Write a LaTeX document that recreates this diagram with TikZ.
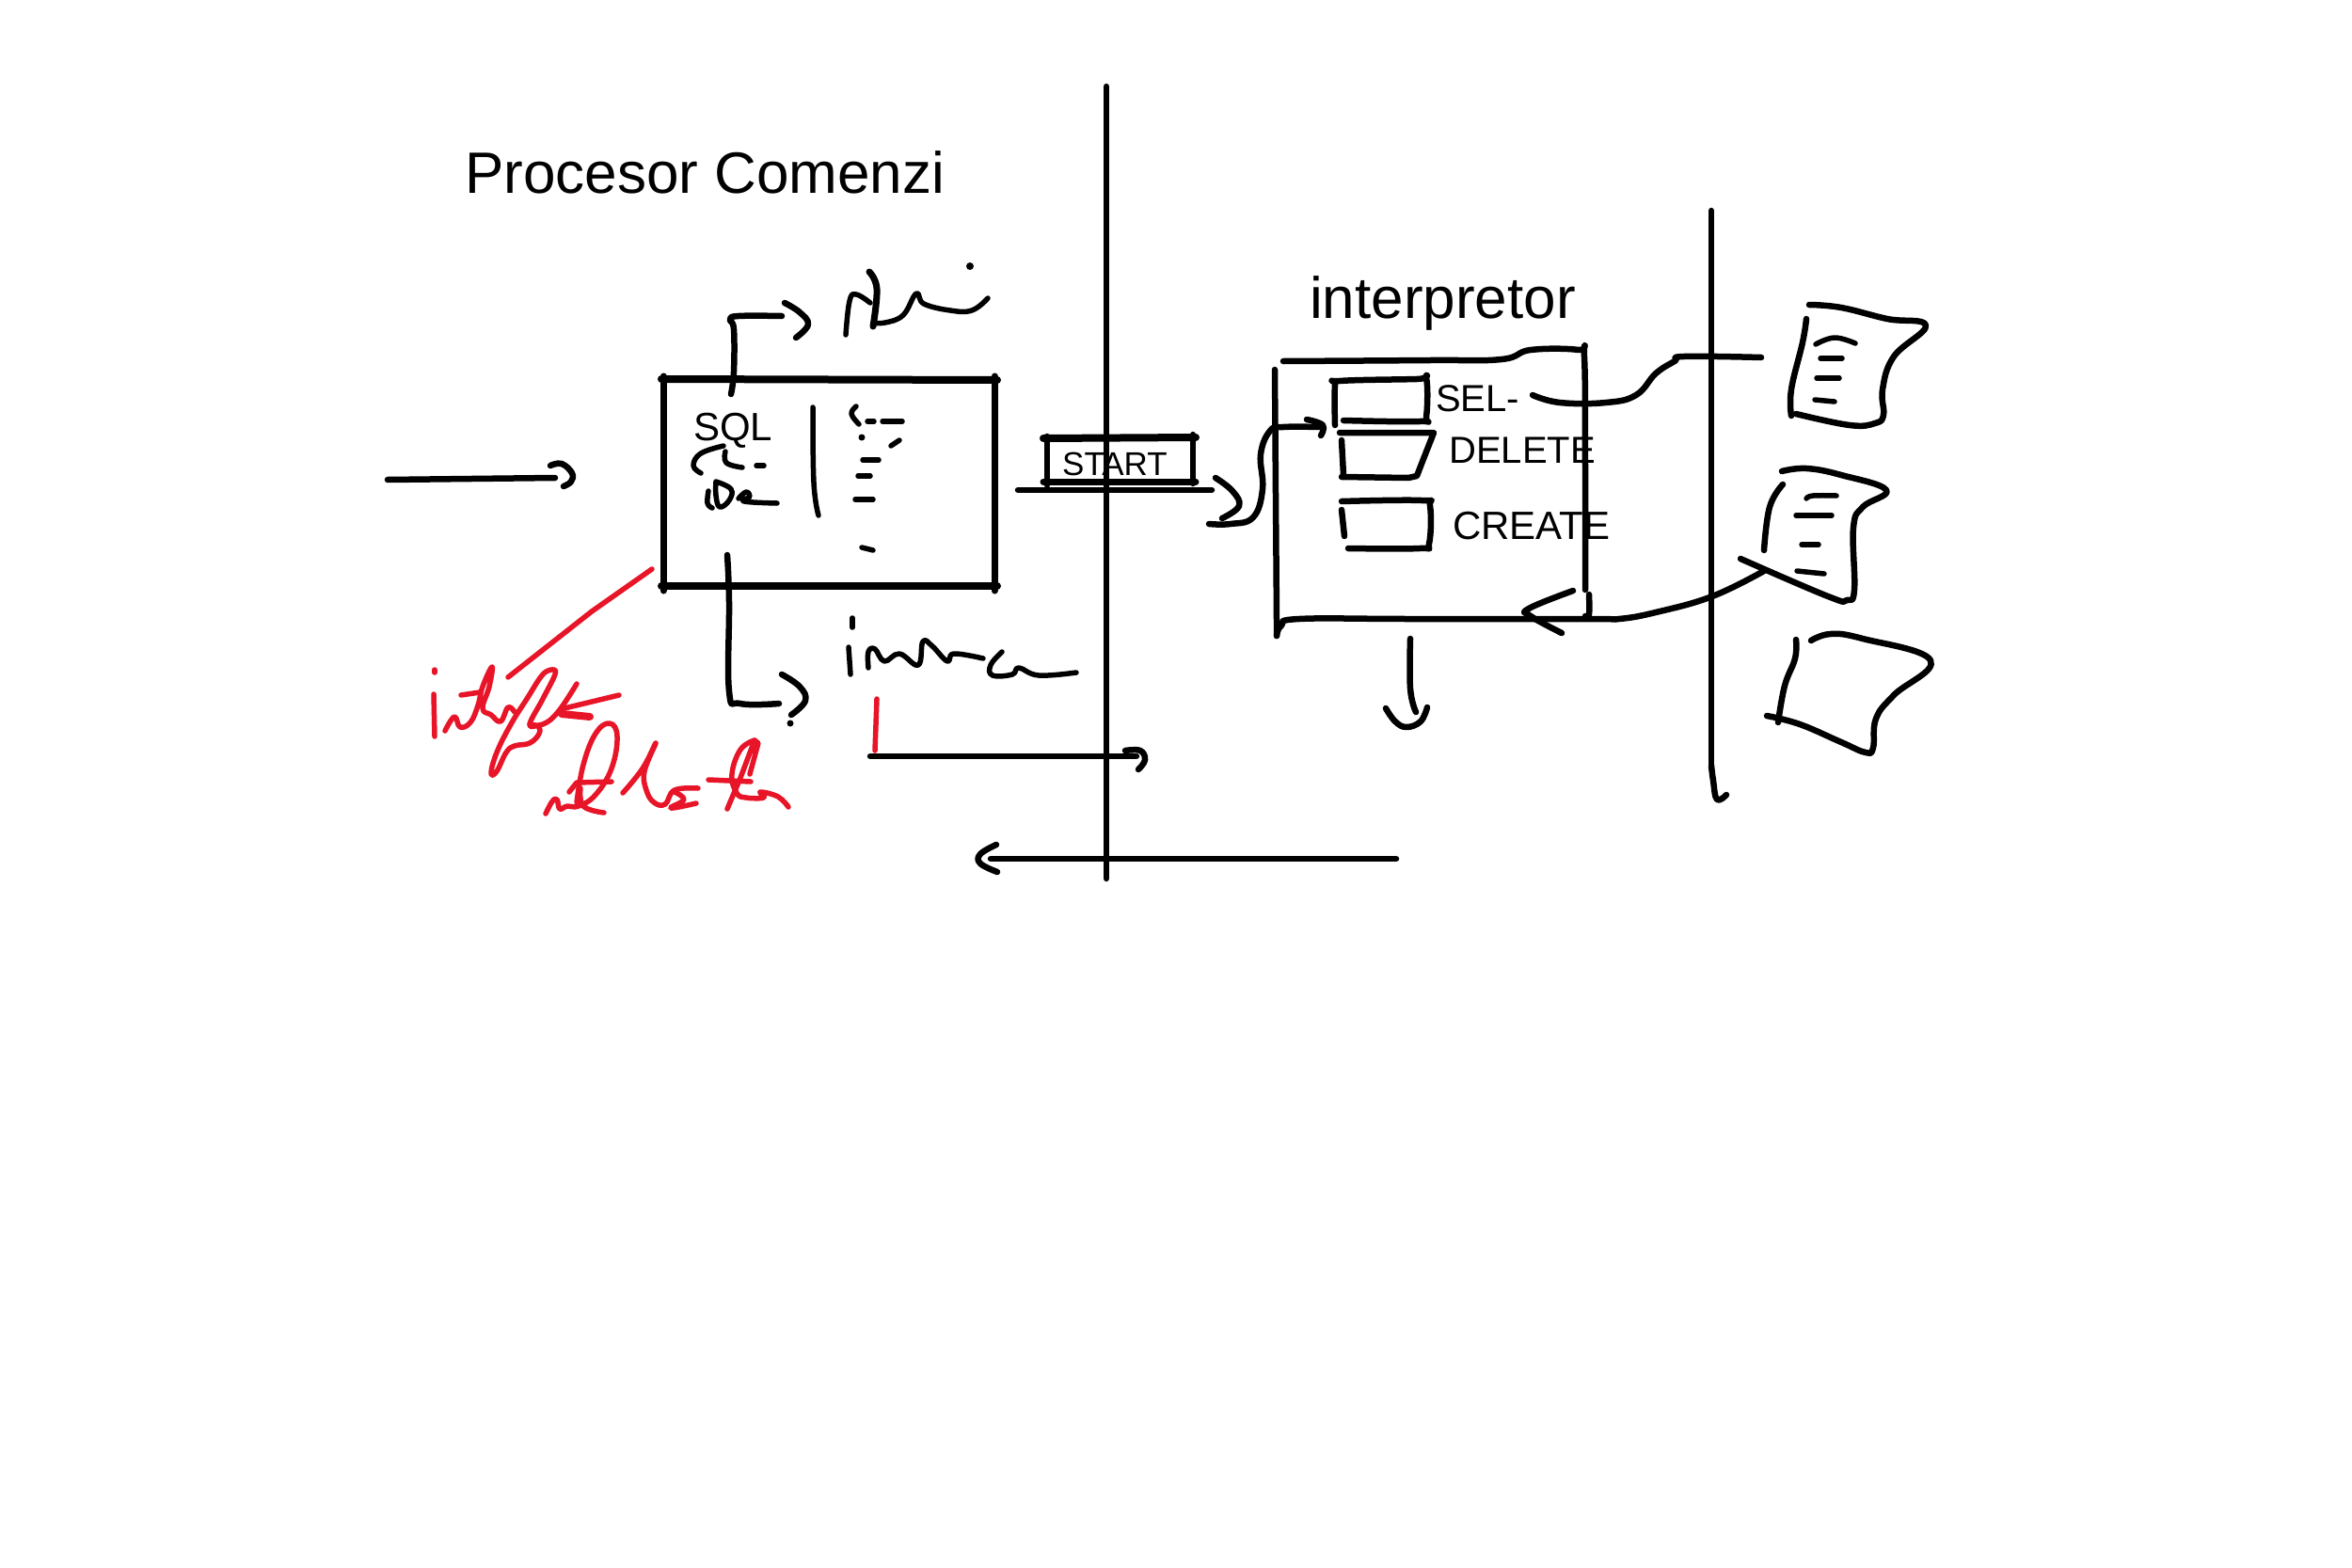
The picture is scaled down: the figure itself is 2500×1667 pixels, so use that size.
\documentclass[tikz,border=0pt]{standalone}
\usepackage{fontspec}
\setmainfont{Liberation Sans}
\definecolor{redink}{RGB}{232,20,40}
\tikzset{
  inkline/.style={line width=6.5pt,line cap=round,line join=round,black},
  fineline/.style={line width=5.5pt},
  redline/.style={line width=5.5pt,line cap=round,line join=round,redink},
  lab/.style={inner sep=0pt,anchor=base west,black}
}
\newcommand{\ink}[2][]{\draw[inkline,#1] plot[smooth,tension=0.7] coordinates {#2};}
\newcommand{\rink}[1]{\draw[redline] plot[smooth,tension=0.7] coordinates {#1};}
\newcommand{\poly}[2][]{\draw[inkline,#1] plot coordinates {#2};}
\begin{document}
\begin{tikzpicture}[x=1pt,y=-1pt]
\useasboundingbox (0,0) rectangle (2500,1667);
\fill[white] (0,0) rectangle (2500,1667);

% dividers
\poly{(1176,92) (1176,934)}
\poly{(1819,224) (1819,814)}
\ink{(1819,814) (1821,830) (1825,850) (1835,845)}

% title
\node[lab,font=\fontsize{62}{62}\selectfont] (title) at (494,205) {Procesor Comenzi};

% entry arrow
\poly{(412,510) (590,508)}
\ink{(585,495) (597,493) (608,503) (607,512) (599,517)}

% main box
\poly[line width=8pt]{(703,403) (1060,404)}
\poly[line width=8pt]{(703,623) (1060,623)}
\poly[line width=7pt]{(705,400) (705,628)}
\poly[line width=7pt]{(1057,400) (1057,628)}

% branch up
\ink{(777,419) (780,395) (780,350) (776,340) (785,336) (831,336)}
\ink{(834,322) (850,332) (859,345) (846,359)}
% branch down
\ink{(773,590) (775,640) (775,735) (787,748) (828,748)}
\ink{(831,717) (850,730) (856,745) (841,760)}
\fill (840,769) circle (3.5pt);

% upper scrawl
\ink[fineline]{(899,356) (903,320) (910,313) (925,322)}
\ink[line width=7pt]{(924,289) (932,307) (928,347)}
\ink[fineline]{(928,343) (941,343) (960,335) (974,312) (982,323) (1010,330) (1033,330) (1050,317)}
\fill (1031,283) circle (4pt);

% box contents
\node[lab,font=\fontsize{42}{42}\selectfont] (sql) at (737,468) {SQL};
\ink[fineline]{(769,474) (745,482) (737,495) (745,503)}
\ink[fineline]{(771,480) (772,492) (789,497)}
\poly[fineline]{(804,495) (812,495)}
\ink[fineline]{(753,522) (752,535) (757,540)}
\ink[fineline]{(761,512) (777,520) (775,532) (765,539) (761,527) (761,512)}
\ink[fineline]{(785,530) (793,523) (797,528) (791,533) (826,535)}
\ink[fineline]{(864,433) (865,513) (870,548)}
\ink[fineline]{(910,432) (905,440) (913,451)}
\poly[fineline]{(922,448) (929,448)}
\poly[fineline]{(938,448) (959,448)}
\fill (916,465) circle (3.5pt);
\poly[fineline]{(947,474) (956,468)}
\poly[fineline]{(917,489) (934,489)}
\poly[fineline]{(912,506) (925,506)}
\poly[fineline]{(909,531) (928,531)}
\poly[fineline]{(916,582) (928,585)}

% lower scrawl
\poly[fineline]{(906,657) (906,667)}
\poly[fineline]{(902,688) (904,717)}
\ink[fineline]{(923,710) (923,693) (930,690) (940,703) (956,695) (976,707) (981,682) (991,687) (1007,703) (1014,695) (1045,700)}
\ink[fineline]{(1065,693) (1053,707) (1055,718) (1076,717) (1083,710) (1104,718) (1144,715)}

% red annotation
\poly[redline]{(693,605) (629,650) (540,720)}
\poly[redline]{(462,712) (462,715)}
\poly[redline]{(461,738) (462,783)}
\rink{(473,777) (483,762) (489,773) (500,768) (508,750) (513,730) (523,709) (520,730) (513,753) (522,760) (532,767) (540,752) (547,757)}
\poly[redline]{(490,739) (510,736)}
\rink{(588,712) (577,717) (560,743) (543,770) (528,800) (522,822) (528,820) (538,800) (547,793) (563,790) (573,780) (572,772) (563,770) (577,743) (590,717) (588,712)}
\rink{(563,770) (577,770) (593,757) (613,727)}
\poly[redline]{(658,739) (600,753) (595,758)}
\draw[redline,line width=8pt] (597,759) -- (627,762);
\rink{(580,865) (587,852) (592,850) (595,860) (603,857) (615,857) (633,845) (650,817) (656,783) (648,769) (633,780) (620,813) (613,853)}
\poly[redline]{(605,842) (613,832) (650,831)}
\rink{(617,838) (620,857) (642,864)}
\rink{(662,843) (683,817) (697,790) (685,820) (687,840) (695,853) (707,855) (717,840) (742,838)}
\rink{(717,842) (727,850) (713,859) (740,854)}
\poly[redline]{(773,860) (787,827) (802,787) (806,790) (797,823)}
\rink{(802,787) (787,797) (778,823) (783,843) (793,848) (812,848) (808,842) (827,847) (838,858)}
\poly[redline]{(753,829) (798,831)}
\poly[redline]{(932,743) (930,798)}

% lower arrows across divider
\poly{(925,804) (1208,804)}
\ink{(1196,798) (1212,798) (1217,808) (1210,818)}
\poly{(1053,913) (1484,913)}
\ink{(1059,898) (1042,908) (1042,918) (1060,927)}

% START box
\poly[line width=8pt]{(1109,466) (1271,465)}
\poly[line width=7pt]{(1109,512) (1271,512)}
\poly{(1113,464) (1113,516)}
\poly{(1268,462) (1268,514)}
\node[lab,font=\fontsize{35}{35}\selectfont] (start) at (1129,505) {START};
\poly{(1082,521) (1288,521)}
\ink{(1292,508) (1310,522) (1317,538) (1299,551)}
\ink{(1285,557) (1308,557) (1332,550) (1342,520) (1340,483) (1350,458) (1364,454) (1402,454)}
\ink{(1389,446) (1406,452) (1404,463)}

% interpreter box
\node[lab,font=\fontsize{62}{62}\selectfont] (interp) at (1392,338) {interpretor};
\ink{(1364,384) (1520,383) (1596,382) (1627,372) (1678,372) (1684,380) (1685,500) (1685,627)}
\poly{(1355,393) (1357,660) (1357,676)}
\ink{(1357,676) (1362,665) (1381,658) (1500,658) (1690,658) (1721,658) (1760,651) (1820,634) (1875,607)}
\ink{(1689,632) (1689,653) (1685,655)}
\ink{(1672,628) (1625,647) (1627,655) (1660,673)}
\ink{(1499,679) (1499,732) (1505,757)}
\ink{(1473,753) (1483,767) (1495,773) (1510,767) (1517,752)}

% inner command boxes
\ink{(1419,452) (1419,410) (1424,405) (1506,403) (1516,402) (1516,443) (1509,448) (1428,447)}
\node[lab,font=\fontsize{40}{40}\selectfont] (sel) at (1526,437) {SEL-};
\ink{(1629,420) (1658,428) (1707,428) (1739,420) (1760,397) (1780,384) (1790,379) (1872,380)}
\poly{(1424,460) (1524,460) (1511,493) (1506,506) (1497,508) (1426,507)}
\poly{(1426,468) (1428,505)}
\node[lab,font=\fontsize{40}{40}\selectfont] (del) at (1540,492) {DELETE};
\ink{(1426,533) (1511,532) (1520,538) (1519,578) (1509,583) (1433,583)}
\poly{(1426,542) (1429,570)}
\node[lab,font=\fontsize{42}{42}\selectfont] (cre) at (1544,573) {CREATE};

% documents
\ink{(1923,324) (1957,327) (2006,339) (2047,346) (2013,379) (2001,414) (2002,441) (1993,450) (1966,452) (1909,440)}
\ink{(1920,339) (1916,364) (1904,414) (1904,442)}
\ink[fineline]{(1930,366) (1950,359) (1972,365)}
\poly[fineline]{(1935,381) (1958,381)}
\poly[fineline]{(1931,402) (1955,402)}
\poly[fineline]{(1929,425) (1950,427)}

\ink{(1894,501) (1920,498) (1957,505) (2005,521) (1980,539) (1970,561) (1971,627) (1963,638) (1943,634) (1850,594)}
\ink{(1895,515) (1881,539) (1875,585)}
\ink[fineline]{(1920,530) (1927,527) (1952,527)}
\poly[fineline]{(1909,548) (1947,548)}
\poly[fineline]{(1915,579) (1933,579)}
\poly[fineline]{(1910,607) (1939,610)}

\ink{(1925,681) (1946,674) (1980,679) (2052,702) (2013,739) (1994,764) (1991,795) (1983,800) (1957,789) (1913,770) (1878,761)}
\ink{(1909,680) (1908,700) (1897,729) (1890,768)}
\end{tikzpicture}
\end{document}
